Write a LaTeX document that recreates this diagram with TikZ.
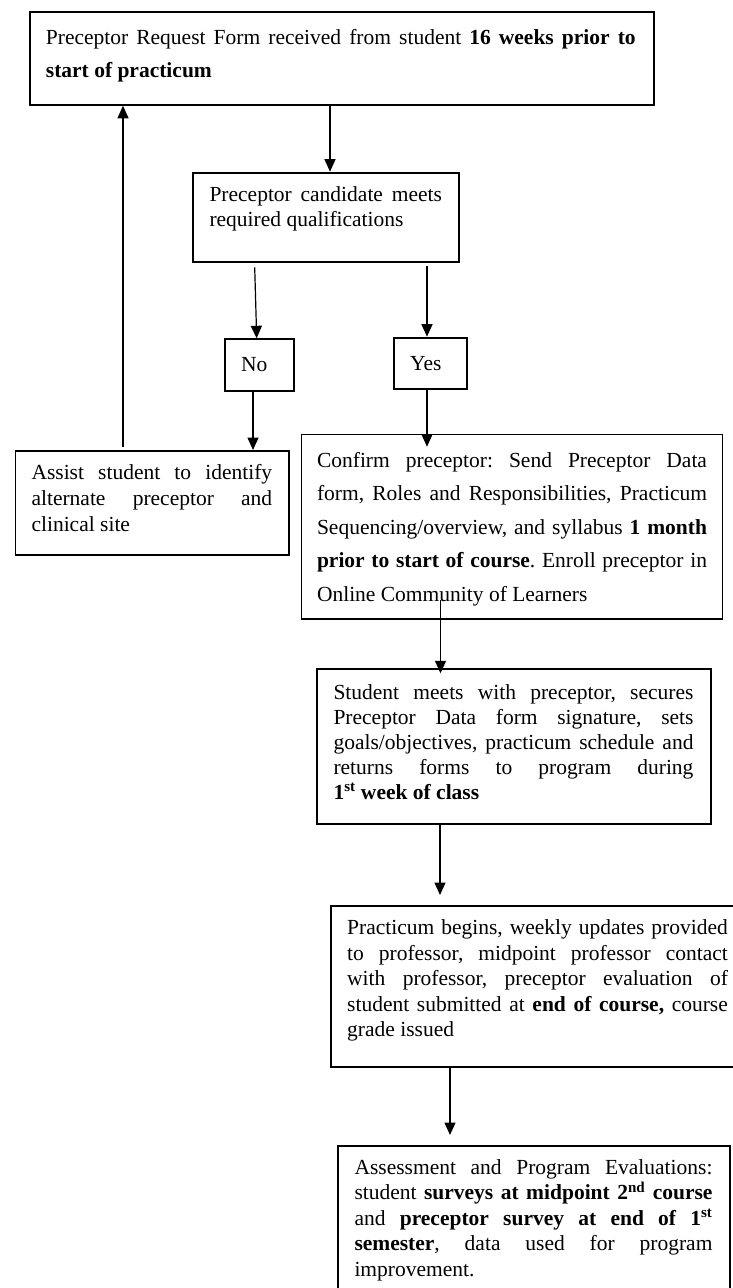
\documentclass[tikz,border=0pt]{standalone}
\usepackage{fontspec}
\setmainfont{Liberation Serif}
\usetikzlibrary{arrows.meta}
\frenchspacing
\newcommand{\jline}[1]{\makebox[\linewidth][s]{#1}}
\tikzset{
  flowbox/.style={draw=black, line width=1.8pt, inner sep=0pt, anchor=north west, fill=none},
  txt/.style={inner sep=0pt, anchor=base west, font=\fontsize{21.5}{25}\selectfont, text=black},
  arr/.style={draw=black, line width=1.2pt, -{Triangle[length=12.5pt,width=11pt]}}
}
\begin{document}
\begin{tikzpicture}[x=1pt,y=-1pt]
\useasboundingbox (0,0) rectangle (733,1288);
\fill[white] (0,0) rectangle (733,1288);

% boxes
\node[flowbox, minimum width=624.1pt, minimum height=93pt] (b1) at (28.7,11) {};
\node[flowbox, minimum width=266pt, minimum height=89.3pt] (b2) at (192.3,171.7) {};
\node[flowbox, minimum width=69.3pt, minimum height=51.7pt] (bNo) at (224,338.3) {};
\node[flowbox, minimum width=72.4pt, minimum height=51pt] (bYes) at (393.3,336.7) {};
\node[flowbox, minimum width=273.8pt, minimum height=104pt] (bAssist) at (14.5,450) {};
\node[flowbox, minimum width=421pt, minimum height=184.8pt] (bConfirm) at (300.5,433.5) {};
\node[flowbox, minimum width=394.3pt, minimum height=155pt] (bStudent) at (315.7,667.7) {};
\node[flowbox, minimum width=410pt, minimum height=161pt] (bPract) at (330,904.7) {};
\node[flowbox, minimum width=392pt, minimum height=160pt] (bAssess) at (337.3,1145) {};

% texts
\node[txt] (t1) at (45.7,44.3) {\parbox[t]{589.8pt}{\fontsize{21.5}{33.4}\selectfont
\jline{Preceptor Request Form received from student \textbf{16 weeks prior to}}\\
\textbf{start of practicum}}};
\node[txt] (t2) at (209.3,201) {\parbox[t]{232.4pt}{\fontsize{21.5}{25}\selectfont
\jline{Preceptor candidate meets}\\
required qualifications}};
\node[txt] (tNo) at (241,371) {No};
\node[txt] (tYes) at (410,370) {Yes};
\node[txt] (tAssist) at (31.3,479.7) {\parbox[t]{240.7pt}{\fontsize{21.5}{25.8}\selectfont
\jline{Assist student to identify}\\
\jline{alternate preceptor and}\\
clinical site}};
\node[txt] (tConfirm) at (316.8,467.3) {\parbox[t]{390pt}{\fontsize{21.5}{33.5}\selectfont
\jline{Confirm preceptor: Send Preceptor Data}\\
\jline{form, Roles and Responsibilities, Practicum}\\
\jline{Sequencing/overview, and syllabus \textbf{1 month}}\\
\jline{\textbf{prior to start of course}. Enroll preceptor in}\\
Online Community of Learners}};
\node[txt] (tStudent) at (333.3,699.3) {\parbox[t]{360pt}{\fontsize{21.5}{25}\selectfont
\jline{Student meets with preceptor, secures}\\
\jline{Preceptor Data form signature, sets}\\
\jline{goals/objectives, practicum schedule and}\\
\jline{returns forms to program during}\\
\textbf{1\textsuperscript{st} week of class}}};
\node[txt] (tPract) at (347,934.5) {\parbox[t]{380.7pt}{\fontsize{21.5}{25.5}\selectfont
\jline{Practicum begins, weekly updates provided}\\
\jline{to professor, midpoint professor contact}\\
\jline{with professor, preceptor evaluation of}\\
\jline{student submitted at \textbf{end of course,} course}\\
grade issued}};
\node[txt] (tAssess) at (354.3,1174) {\parbox[t]{358pt}{\fontsize{21.5}{25.6}\selectfont
\jline{Assessment and Program Evaluations:}\\
\jline{student \textbf{surveys at midpoint 2\textsuperscript{nd} course}}\\
\jline{and \textbf{preceptor survey at end of 1\textsuperscript{st}}}\\
\jline{\textbf{semester}, data used for program}\\
improvement.}};

% free connector ends
\coordinate (cNoTop) at (254.7,267.3);
\coordinate (cYesTop) at (427,266);
\coordinate (cUp) at (123,446.7);
\coordinate (cYesTip) at (427,446.7);
\coordinate (cConf) at (440.5,600);
\coordinate (cStudTip) at (440.5,673.3);
\coordinate (cPrTip) at (440,895);
\coordinate (cAsTip) at (450,1135);

% connectors
\draw[arr] (330,0 |- b1.south) -- (330,0 |- b2.north);
\draw[arr] (cNoTop) -- (256.7,0 |- bNo.north);
\draw[arr] (cYesTop) -- (427,0 |- bYes.north);
\draw[arr] (253,0 |- bNo.south) -- (253,0 |- bAssist.north);
\draw[arr] (cUp) -- (123,0 |- b1.south);
\draw[arr] (427,0 |- bYes.south) -- (cYesTip);
\draw[arr] (cConf) -- (cStudTip);
\draw[arr] (440,0 |- bStudent.south) -- (cPrTip);
\draw[arr] (450,0 |- bPract.south) -- (cAsTip);
\end{tikzpicture}
\end{document}
